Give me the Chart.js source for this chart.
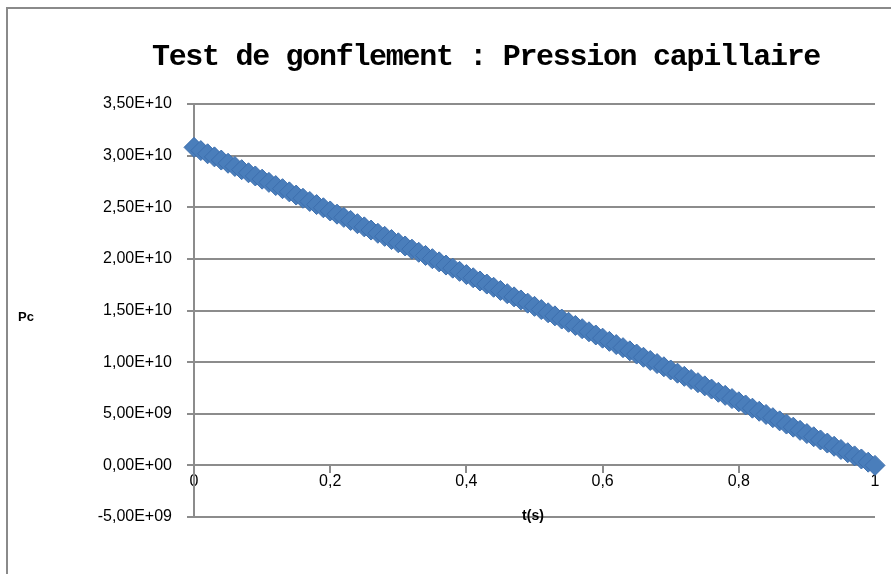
<!DOCTYPE html>
<html>
<head>
<meta charset="utf-8">
<script src="https://cdn.jsdelivr.net/npm/chart.js@4"></script>
<style>
  html, body { margin: 0; padding: 0; background: #fff; }
  #wrap { width: 891px; height: 574px; position: relative; }
</style>
</head>
<body>
<div id="wrap"><canvas id="chart"></canvas></div>
<script>
const titleText = 'Test de gonflement : Pression capillaire';
const xTitle = 't(s)';
const yTitle = 'Pc';

// temps (s)
const times = [
  0, 0.01, 0.02, 0.03, 0.04, 0.05, 0.06, 0.07, 0.08, 0.09,
  0.10, 0.11, 0.12, 0.13, 0.14, 0.15, 0.16, 0.17, 0.18, 0.19,
  0.20, 0.21, 0.22, 0.23, 0.24, 0.25, 0.26, 0.27, 0.28, 0.29,
  0.30, 0.31, 0.32, 0.33, 0.34, 0.35, 0.36, 0.37, 0.38, 0.39,
  0.40, 0.41, 0.42, 0.43, 0.44, 0.45, 0.46, 0.47, 0.48, 0.49,
  0.50, 0.51, 0.52, 0.53, 0.54, 0.55, 0.56, 0.57, 0.58, 0.59,
  0.60, 0.61, 0.62, 0.63, 0.64, 0.65, 0.66, 0.67, 0.68, 0.69,
  0.70, 0.71, 0.72, 0.73, 0.74, 0.75, 0.76, 0.77, 0.78, 0.79,
  0.80, 0.81, 0.82, 0.83, 0.84, 0.85, 0.86, 0.87, 0.88, 0.89,
  0.90, 0.91, 0.92, 0.93, 0.94, 0.95, 0.96, 0.97, 0.98, 0.99,
  1.00
];

// pression capillaire (Pa)
const pressures = [
  3.080e10, 3.049e10, 3.018e10, 2.988e10, 2.957e10, 2.926e10, 2.895e10, 2.864e10, 2.834e10, 2.803e10,
  2.772e10, 2.741e10, 2.710e10, 2.680e10, 2.649e10, 2.618e10, 2.587e10, 2.556e10, 2.526e10, 2.495e10,
  2.464e10, 2.433e10, 2.402e10, 2.372e10, 2.341e10, 2.310e10, 2.279e10, 2.248e10, 2.218e10, 2.187e10,
  2.156e10, 2.125e10, 2.094e10, 2.064e10, 2.033e10, 2.002e10, 1.971e10, 1.940e10, 1.910e10, 1.879e10,
  1.848e10, 1.817e10, 1.786e10, 1.756e10, 1.725e10, 1.694e10, 1.663e10, 1.632e10, 1.602e10, 1.571e10,
  1.540e10, 1.509e10, 1.478e10, 1.448e10, 1.417e10, 1.386e10, 1.355e10, 1.324e10, 1.294e10, 1.263e10,
  1.232e10, 1.201e10, 1.170e10, 1.140e10, 1.109e10, 1.078e10, 1.047e10, 1.016e10, 0.986e10, 0.955e10,
  0.924e10, 0.893e10, 0.862e10, 0.832e10, 0.801e10, 0.770e10, 0.739e10, 0.708e10, 0.678e10, 0.647e10,
  0.616e10, 0.585e10, 0.554e10, 0.524e10, 0.493e10, 0.462e10, 0.431e10, 0.400e10, 0.370e10, 0.339e10,
  0.308e10, 0.277e10, 0.246e10, 0.216e10, 0.185e10, 0.154e10, 0.123e10, 0.092e10, 0.062e10, 0.031e10,
  0
];

const yTickLabels = {
  '-5000000000': '-5,00E+09',
  '0': '0,00E+00',
  '5000000000': '5,00E+09',
  '10000000000': '1,00E+10',
  '15000000000': '1,50E+10',
  '20000000000': '2,00E+10',
  '25000000000': '2,50E+10',
  '30000000000': '3,00E+10',
  '35000000000': '3,50E+10'
};
const xTickLabels = { '0': '0', '0.2': '0,2', '0.4': '0,4', '0.6': '0,6', '0.8': '0,8', '1': '1' };

const gridGray = '#8c8c8c';

const extras = {
  id: 'extras',
  beforeDraw(chart) {
    const c = chart.ctx;
    c.save();
    c.strokeStyle = '#8a8a8a';
    c.lineWidth = 2;
    c.beginPath();
    c.moveTo(7, 574);
    c.lineTo(7, 8);
    c.lineTo(891, 8);
    c.stroke();
    c.restore();
  },
  afterDraw(chart) {
    const c = chart.ctx;
    c.save();
    c.fillStyle = '#000';
    c.textAlign = 'center';
    c.textBaseline = 'middle';
    c.font = 'bold 30px "Liberation Mono", "Courier New", monospace';
    c.letterSpacing = '-1.3px';
    c.fillText(titleText, 486, 57);
    c.letterSpacing = '0px';
    c.font = 'bold 14px "Liberation Sans", Arial, sans-serif';
    c.fillText(xTitle, 533, 516);
    c.font = 'bold 13px "Liberation Sans", Arial, sans-serif';
    c.fillText(yTitle, 26, 317);
    c.restore();
  }
};

const ctx = document.getElementById('chart').getContext('2d');
const chart = new Chart(ctx, {
  type: 'scatter',
  data: {
    datasets: [{
      data: times.map((t, i) => ({ x: t, y: pressures[i] })),
      showLine: false,
      clip: false,
      pointStyle: 'rectRot',
      pointRadius: 10,
      pointBackgroundColor: '#4a7ebb',
      pointBorderColor: '#3d6fae',
      pointBorderWidth: 1
    }]
  },
  options: {
    responsive: true,
    maintainAspectRatio: false,
    animation: false,
    layout: { padding: { left: 0, right: 16, top: 104, bottom: 57 } },
    plugins: {
      legend: { display: false },
      tooltip: { enabled: false }
    },
    scales: {
      x: {
        type: 'linear',
        position: { y: 0 },
        min: 0,
        max: 1,
        border: { color: gridGray, width: 2 },
        grid: { drawOnChartArea: false, color: gridGray, lineWidth: 2, tickLength: 7 },
        ticks: {
          stepSize: 0.2,
          padding: 0,
          color: '#000',
          font: { family: '"Liberation Sans", Arial, sans-serif', size: 16 },
          maxRotation: 0,
          callback: v => xTickLabels[String(Math.round(v * 10) / 10)] ?? ''
        }
      },
      y: {
        min: -5e9,
        max: 3.5e10,
        afterFit(scale) { scale.width = 194; },
        border: { color: gridGray, width: 2 },
        grid: { color: gridGray, lineWidth: 2, tickLength: 7 },
        ticks: {
          stepSize: 5e9,
          padding: 15,
          color: '#000',
          font: { family: '"Liberation Sans", Arial, sans-serif', size: 16 },
          callback: v => yTickLabels[String(Math.round(v))] ?? ''
        }
      }
    }
  },
  plugins: [extras]
});
</script>
</body>
</html>
